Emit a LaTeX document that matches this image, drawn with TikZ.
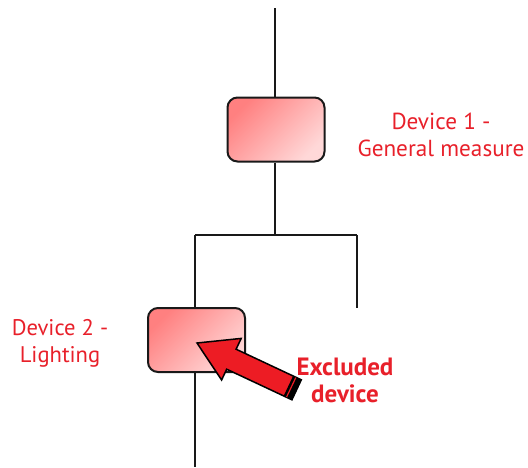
\documentclass[tikz,border=0pt]{standalone}
\usepackage{fontspec}
\setmainfont{PT Sans}
\begin{document}
\begin{tikzpicture}[x=1pt,y=-1pt,
  wire/.style={line width=2pt,black!90},
  devbox/.style={draw=black!90,line width=2pt,rounded corners=10pt,minimum width=97pt,minimum height=64pt,
    top color=pinkA,bottom color=pinkB,shading angle=45,inner sep=0pt},
  lbl/.style={text=redtxt,font=\fontsize{23.2}{27}\selectfont,align=center,inner sep=0pt}]
\definecolor{pinkA}{HTML}{FF8080}
\definecolor{pinkB}{HTML}{FFD8D8}
\definecolor{redtxt}{HTML}{E8202A}
\definecolor{arrowred}{HTML}{ED1C24}
\useasboundingbox (0,0) rectangle (528,467);
% devices
\node[devbox] (dev1) at (276,129.5) {};
\node[devbox] (dev2) at (196.5,340) {};
% wiring coordinates
\coordinate (top) at (275,8);
\coordinate (junc) at (275,235);
\coordinate (jl) at (195,235);
\coordinate (jr) at (357,235);
\coordinate (rend) at (357,308);
\coordinate (bot) at (195,467);
\draw[wire] (top) -- (top|-dev1.north);
\draw[wire] (junc|-dev1.south) -- (junc);
\draw[wire] (jl) -- (jr);
\draw[wire] (jl) -- (jl|-dev2.north);
\draw[wire] (jr) -- (rend);
\draw[wire] (bot|-dev2.south) -- (bot);
% labels
\node[lbl] (t1) at (441,135) {Device 1 -\\General measure};
\node[lbl,font=\fontsize{22.6}{27}\selectfont] (t2) at (60,343) {Device 2 -\\Lighting};
\node[lbl,font=\fontsize{25}{27}\selectfont\bfseries] (t3) at (345,380) {Excluded\\device};
% block arrow
\draw[fill=arrowred,draw=black,line width=1.5pt,line join=miter]
  (197,343) -- (241.2,338.4) -- (236.1,349.2) -- (301.3,379.8) -- (291.9,399.8)
  -- (226.7,369.2) -- (221.6,380) -- cycle;
\fill[black] (293.1,375.9) -- (301.3,379.8) -- (291.9,399.8) -- (283.7,395.9) -- cycle;
\draw[arrowred,line width=1.2pt] (295.8,377.6) -- (286.6,397.0);
\end{tikzpicture}
\end{document}
